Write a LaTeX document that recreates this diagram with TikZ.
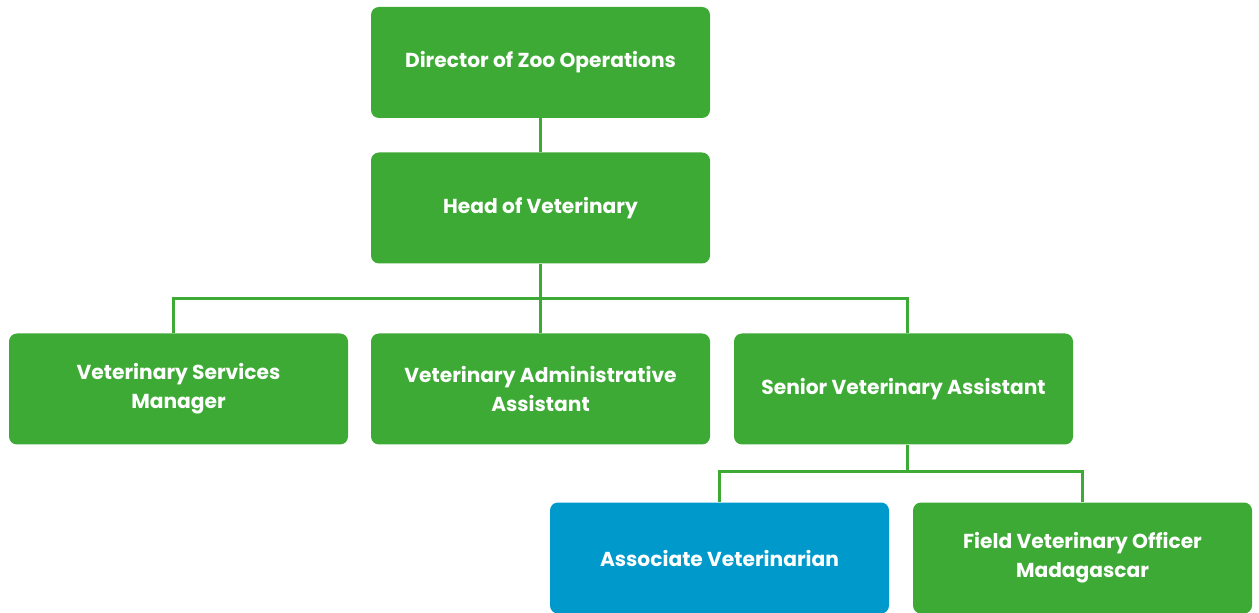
\documentclass[tikz,border=0pt]{standalone}
\usepackage{fontspec}
\setmainfont{Poppins}
\usepackage{xcolor}
\definecolor{zooGreen}{RGB}{61, 170, 53}
\definecolor{zooBlue}{RGB}{0, 153, 204}

\tikzset{
  rolebox/.style={fill=zooGreen, text=white, rounded corners=0.16cm, minimum width=6.78cm, minimum height=2.22cm, align=center, font=\fontsize{11.5}{16.5}\selectfont\bfseries},
  link/.style={draw=zooGreen, line width=1.6pt}
}

\begin{document}
\begin{tikzpicture}
            \useasboundingbox (0,0) rectangle (25.18,12.24);
            \node[rolebox] (director) at (10.81,10.99) {Director of Zoo Operations};
            \node[rolebox] (head) at (10.81,8.08) {Head of Veterinary};
            \node[rolebox] (services) at (3.57,4.46) {Veterinary Services\\Manager};
            \node[rolebox] (admin) at (10.81,4.46) {Veterinary Administrative\\Assistant};
            \node[rolebox] (senior) at (18.07,4.46) {Senior Veterinary Assistant};
            \node[rolebox, fill=zooBlue] (associate) at (14.39,1.08) {Associate Veterinarian};
            \node[rolebox] (field) at (21.65,1.08) {Field Veterinary Officer\\Madagascar};
            \draw[link] (director) -- (head);
            \draw[link] (head.south) -- (admin.north);
            \draw[link] ([yshift=-0.7cm]head.south) -| ([xshift=-0.1cm]services.north);
            \draw[link] ([yshift=-0.7cm]head.south) -| ([xshift=0.08cm]senior.north);
            \draw[link] ([xshift=0.08cm]senior.south) -- ++(0,-0.54) -| (associate.north);
            \draw[link] ([xshift=0.08cm,yshift=-0.54cm]senior.south) -| (field.north);
        \end{tikzpicture}
\end{document}
